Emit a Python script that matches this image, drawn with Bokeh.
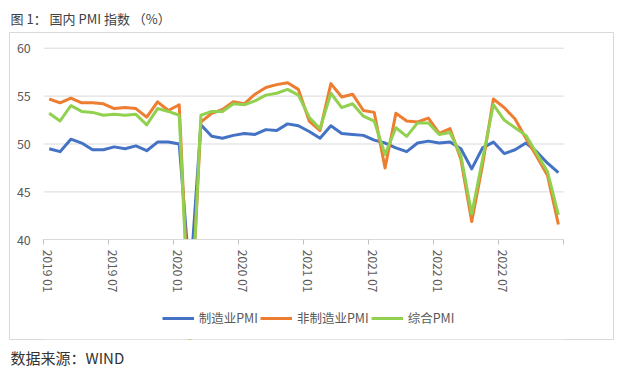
import numpy as np
from bokeh.plotting import figure
from bokeh.models import (FixedTicker, LinearAxis, Legend, LegendItem, Range1d, Title)
from bokeh.embed import file_html
from bokeh.resources import INLINE

# ---- data (monthly, 2019-01 .. 2022-12) ----
months = [f"{y} {m:02d}" for y in (2019, 2020, 2021, 2022) for m in range(1, 13)]

mfg_pmi = [49.5, 49.2, 50.5, 50.1, 49.4, 49.4, 49.7, 49.5, 49.8, 49.3, 50.2, 50.2,
           50.0, 35.7, 52.0, 50.8, 50.6, 50.9, 51.1, 51.0, 51.5, 51.4, 52.1, 51.9,
           51.3, 50.6, 51.9, 51.1, 51.0, 50.9, 50.4, 50.1, 49.6, 49.2, 50.1, 50.3,
           50.1, 50.2, 49.5, 47.4, 49.6, 50.2, 49.0, 49.4, 50.1, 49.2, 48.0, 47.0]

nonmfg_pmi = [54.7, 54.3, 54.8, 54.3, 54.3, 54.2, 53.7, 53.8, 53.7, 52.8, 54.4, 53.5,
              54.1, 29.6, 52.3, 53.2, 53.6, 54.4, 54.2, 55.2, 55.9, 56.2, 56.4, 55.7,
              52.4, 51.4, 56.3, 54.9, 55.2, 53.5, 53.3, 47.5, 53.2, 52.4, 52.3, 52.7,
              51.1, 51.6, 48.4, 41.9, 47.8, 54.7, 53.8, 52.6, 50.6, 48.7, 46.7, 41.6]

comp_pmi = [53.2, 52.4, 54.0, 53.4, 53.3, 53.0, 53.1, 53.0, 53.1, 52.0, 53.7, 53.4,
            53.0, 28.9, 53.0, 53.4, 53.4, 54.2, 54.1, 54.5, 55.1, 55.3, 55.7, 55.1,
            52.8, 51.6, 55.3, 53.8, 54.2, 52.9, 52.4, 48.9, 51.7, 50.8, 52.2, 52.2,
            51.0, 51.2, 48.8, 42.7, 48.4, 54.1, 52.5, 51.7, 50.9, 49.0, 47.1, 42.6]

tick_labels = ["2019 01", "2019 07", "2020 01", "2020 07",
               "2021 01", "2021 07", "2022 01", "2022 07"]
series_names = ["制造业PMI", "非制造业PMI", "综合PMI"]
y_ticks = [40, 45, 50, 55, 60]
Y_MIN, Y_MAX = 40, 60

# ---- pixel geometry (canvas px) ----
BOX_L, BOX_R, BOX_T, BOX_B = 9, 613, 32, 339        # bordered chart box = frame
DATA_L, DATA_R = 43.3, 563.3                          # category axis extent
DATA_T, DATA_B = 47.7, 239.3                          # y = 60 / y = 40
W, H = 620, 370

U = 20  # x units per month
n = len(months)
x_pos = [U * i + U // 2 for i in range(n)]
label_ticks = [U * months.index(t) + 9 for t in tick_labels]
boundary_ticks = list(range(0, U * n + 1, U * 6))

upx = U * n / (DATA_R - DATA_L)
x0 = -(DATA_L - BOX_L) * upx
x1 = U * n + (BOX_R - DATA_R) * upx
vpx = (Y_MAX - Y_MIN) / (DATA_B - DATA_T)
y1 = Y_MAX + (DATA_T - BOX_T) * vpx
y0 = Y_MIN - (BOX_B - DATA_B) * vpx

FONT = "Noto Sans CJK SC"
GRAY = "#595959"
LIGHT = "#d9d9d9"

p = figure(frame_width=BOX_R - BOX_L, frame_height=BOX_B - BOX_T,
           min_border_left=BOX_L, min_border_right=W - BOX_R,
           min_border_top=BOX_T, min_border_bottom=H - BOX_B,
           x_range=Range1d(x0, x1), y_range=Range1d(y0, y1),
           x_axis_location=None, y_axis_location=None,
           output_backend="svg", toolbar_location=None,
           background_fill_color="white", border_fill_color="white",
           outline_line_color=LIGHT, outline_line_width=1)
p.xgrid.visible = False
p.ygrid.visible = False

# horizontal gridlines over the data extent only
grid_vals = [v for v in y_ticks if v != Y_MIN]
p.segment(x0=[0] * len(grid_vals), x1=[U * n] * len(grid_vals), y0=grid_vals, y1=grid_vals,
          line_color=LIGHT, line_width=1, level="underlay")

# series
colors = ["#4472C4", "#ED7D31", "#92D050"]
renderers = []
for vals, c in zip([mfg_pmi, nonmfg_pmi, comp_pmi], colors):
    r = p.line(x_pos, vals, line_color=c, line_width=3, line_join="round")
    renderers.append(r)

# values below the axis minimum are cut at the axis (like the original chart)
p.quad(left=[0], right=[U * n], bottom=[y0], top=[Y_MIN],
       fill_color="white", line_color=None)

# x axis at y = 40
xaxis = LinearAxis(fixed_location=Y_MIN, bounds=(0, U * n))
xaxis.ticker = FixedTicker(ticks=label_ticks, minor_ticks=boundary_ticks)
xaxis.major_label_overrides = {t: lab for t, lab in zip(label_ticks, tick_labels)}
xaxis.major_label_orientation = -np.pi / 2
xaxis.major_tick_out = 0
xaxis.major_tick_in = 0
xaxis.minor_tick_out = 5
xaxis.minor_tick_in = 0
xaxis.minor_tick_line_color = "#bfbfbf"
xaxis.axis_line_color = LIGHT
xaxis.major_label_standoff = 5
xaxis.major_label_text_font = FONT
xaxis.major_label_text_font_size = "12px"
xaxis.major_label_text_color = GRAY
p.add_layout(xaxis, "below")

# y axis at x = 0
yaxis = LinearAxis(fixed_location=0, bounds=(Y_MIN, Y_MAX))
yaxis.ticker = FixedTicker(ticks=y_ticks)
yaxis.axis_line_color = None
yaxis.major_tick_line_color = None
yaxis.minor_tick_line_color = None
yaxis.major_label_standoff = 7
yaxis.major_label_text_font = FONT
yaxis.major_label_text_font_size = "12.5px"
yaxis.major_label_text_color = GRAY
p.add_layout(yaxis, "left")

legend = Legend(items=[LegendItem(label=nm, renderers=[r]) for nm, r in zip(series_names, renderers)],
                orientation="horizontal", location=(161.7 - BOX_L, BOX_B - 327),
                glyph_width=32, glyph_height=14, label_height=14,
                label_standoff=5, spacing=2, padding=0, margin=0,
                border_line_color=None, background_fill_alpha=0,
                label_text_font=FONT, label_text_font_size="12.5px",
                label_text_color=GRAY)
p.add_layout(legend)

p.title = Title(text="图 1：  国内 PMI  指数 （%）", align="left", offset=1, standoff=10,
                text_font=FONT, text_font_size="13px", text_font_style="normal",
                text_color="#404040")

footer = Title(text="数据来源：WIND", align="left", offset=1, standoff=10,
               text_font=FONT, text_font_size="15px", text_font_style="normal",
               text_color="#333333")
p.add_layout(footer, "below")

open("out.html", "w").write(file_html(p, INLINE))
